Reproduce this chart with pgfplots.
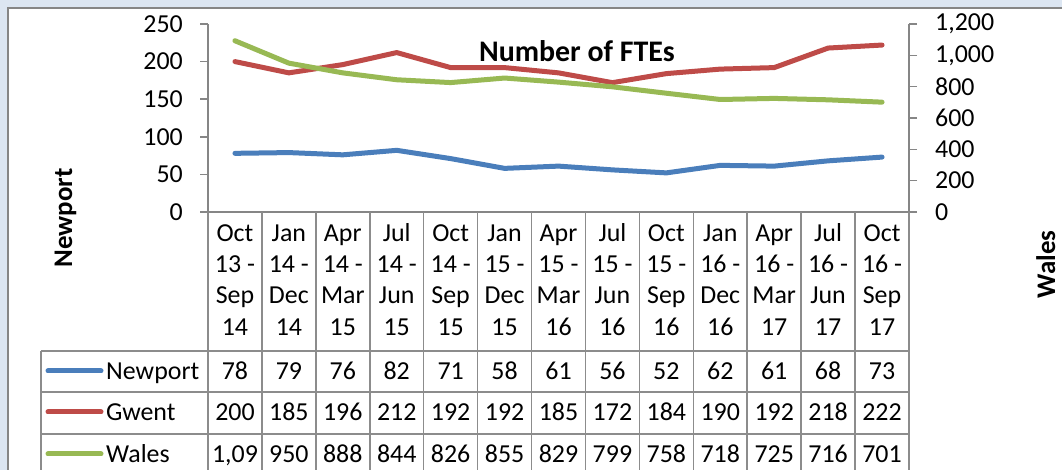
\documentclass[border=0pt]{standalone}
\usepackage{pgfplots}
\pgfplotsset{compat=1.18}
\usepackage{pgfplotstable}
\usepackage{fontspec}
\setmainfont{Carlito}
\definecolor{cNew}{HTML}{4A7EBB}
\definecolor{cGwe}{HTML}{BE4B48}
\definecolor{cWal}{HTML}{98B954}
\definecolor{bgblue}{HTML}{DCE6F2}
\definecolor{axgray}{HTML}{868686}
\definecolor{gridgray}{HTML}{8C8C8C}

\pgfplotstableread{
x new gwent wales
0 78 200 1093
1 79 185 950
2 76 196 888
3 82 212 844
4 71 192 826
5 58 192 855
6 61 185 829
7 56 172 799
8 52 184 758
9 62 190 718
10 61 192 725
11 68 218 716
12 73 222 701
}\datatable

\newcommand{\fs}{\fontsize{26}{31.5}\selectfont}

\begin{document}
\begin{tikzpicture}[x=1bp,y=1bp]
\useasboundingbox (0,0) rectangle (1062,470);
\clip (0,0) rectangle (1062,470);
\fill[bgblue] (0,0) rectangle (1062,470);
\filldraw[fill=white, draw=axgray, line width=1.5bp] (8,-20) rectangle (1090,462);

\begin{axis}[
  at={(208bp,258bp)}, anchor=south west,
  scale only axis, width=701bp, height=188bp,
  xmin=-0.5, xmax=12.5, ymin=0, ymax=250,
  axis y line*=left, axis x line*=bottom,
  xtick=\empty, ytick={0,50,...,250},
  tick align=outside, major tick length=8bp,
  axis line style={draw=axgray, line width=1.5bp, -},
  every tick/.style={draw=axgray, line width=1.5bp},
  /pgf/number format/assume math mode=true,
  tick label style={font=\fs},
  yticklabel style={inner sep=0pt, xshift=-17bp},
  clip=false,
]
\addplot[cGwe, line width=5bp, line cap=round, line join=round] table[x=x, y=gwent]{\datatable};
\addplot[cNew, line width=5bp, line cap=round, line join=round] table[x=x, y=new]{\datatable};
\end{axis}

\begin{axis}[
  at={(208bp,258bp)}, anchor=south west,
  scale only axis, width=701bp, height=188bp,
  xmin=-0.5, xmax=12.5, ymin=0, ymax=1200,
  axis y line*=right, axis x line=none,
  xtick=\empty, ytick={0,200,...,1200},
  tick align=outside, major tick length=8bp,
  axis line style={draw=axgray, line width=1.5bp, -},
  every tick/.style={draw=axgray, line width=1.5bp},
  /pgf/number format/assume math mode=true,
  /pgf/number format/1000 sep={,},
  tick label style={font=\fs},
  yticklabel style={inner sep=0pt, xshift=18bp},
  clip=false,
]
\addplot[cWal, line width=5bp, line cap=round, line join=round] table[x=x, y=wales]{\datatable};
\end{axis}

% title and axis labels
\node[anchor=base, inner sep=0pt, font=\fontsize{30}{36}\selectfont\bfseries] at (577,408) {Number of FTEs};
\node[rotate=90, anchor=base, inner sep=0pt, font=\fontsize{27}{32}\selectfont\bfseries] at (72,252) {Newport};
\node[rotate=90, anchor=base, inner sep=0pt, font=\fontsize{27}{32}\selectfont\bfseries] at (1055,205.5) {Wales};

% data table grid
\begin{scope}[draw=gridgray, line width=1.5bp]
\foreach \k in {0,...,13} {
  \draw (208+53.923*\k, 258) -- (208+53.923*\k, -10);
}
\draw (41,119) -- (909,119);
\draw (41,78) -- (909,78);
\draw (41,36) -- (909,36);
\draw (41,119) -- (41,-10);
\end{scope}

% category labels
\foreach \a/\b/\c/\d [count=\i from 0] in {Oct/13/Sep/14, Jan/14/Dec/14, Apr/14/Mar/15, Jul/14/Jun/15, Oct/14/Sep/15, Jan/15/Dec/15, Apr/15/Mar/16, Jul/15/Jun/16, Oct/15/Sep/16, Jan/16/Dec/16, Apr/16/Mar/17, Jul/16/Jun/17, Oct/16/Sep/17} {
  \node[anchor=base, inner sep=0pt, font=\fs] at (234.96+53.923*\i, 228) {\a};
  \node[anchor=base, inner sep=0pt, font=\fs] at (234.96+53.923*\i, 197) {\b\ -};
  \node[anchor=base, inner sep=0pt, font=\fs] at (234.96+53.923*\i, 166) {\c};
  \node[anchor=base, inner sep=0pt, font=\fs] at (234.96+53.923*\i, 134) {\d};
}

% table values
\foreach \v [count=\i from 0] in {78,79,76,82,71,58,61,56,52,62,61,68,73} {
  \node[anchor=base, inner sep=0pt, font=\fs] at (234.96+53.923*\i, 90) {\v};
}
\foreach \v [count=\i from 0] in {200,185,196,212,192,192,185,172,184,190,192,218,222} {
  \node[anchor=base, inner sep=0pt, font=\fs] at (234.96+53.923*\i, 49) {\v};
}
\foreach \v [count=\i from 0] in {{1,09},950,888,844,826,855,829,799,758,718,725,716,701} {
  \node[anchor=base, inner sep=0pt, font=\fs] at (234.96+53.923*\i, 7) {\v};
}

% legend keys
\draw[cNew, line width=5bp, line cap=round] (48,99) -- (101,99);
\draw[cGwe, line width=5bp, line cap=round] (48,58) -- (101,58);
\draw[cWal, line width=5bp, line cap=round] (48,16) -- (101,16);
\node[anchor=base west, inner sep=0pt, font=\fs] at (106,90) {Newport};
\node[anchor=base west, inner sep=0pt, font=\fs] at (106,49) {Gwent};
\node[anchor=base west, inner sep=0pt, font=\fs] at (106,7) {Wales};
\end{tikzpicture}
\end{document}
